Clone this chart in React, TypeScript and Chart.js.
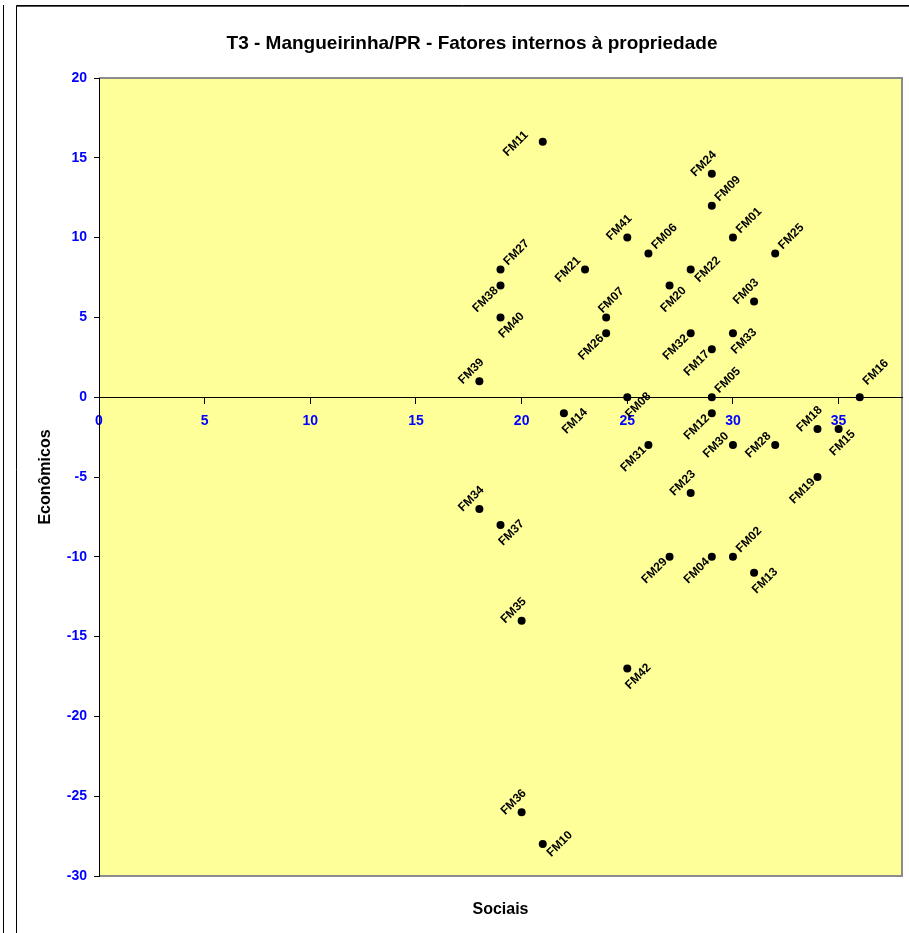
import React, { useEffect, useRef } from 'react';
import { Chart, registerables } from 'chart.js';

Chart.register(...registerables);

const TITLE = 'T3 - Mangueirinha/PR - Fatores internos à propriedade';
const X_TITLE = 'Sociais';
const Y_TITLE = 'Econômicos';

const NAMES = [
  'FM01', 'FM02', 'FM03', 'FM04', 'FM05', 'FM06', 'FM07', 'FM08', 'FM09', 'FM10',
  'FM11', 'FM12', 'FM13', 'FM14', 'FM15', 'FM16', 'FM17', 'FM18', 'FM19', 'FM20',
  'FM21', 'FM22', 'FM23', 'FM24', 'FM25', 'FM26', 'FM27', 'FM28', 'FM29', 'FM30',
  'FM31', 'FM32', 'FM33', 'FM34', 'FM35', 'FM36', 'FM37', 'FM38', 'FM39', 'FM40',
  'FM41', 'FM42',
];
const SOCIAIS = [
  30, 30, 31, 29, 29, 26, 24, 25, 29, 21,
  21, 29, 31, 22, 35, 36, 29, 34, 34, 27,
  23, 28, 28, 29, 32, 24, 19, 32, 27, 30,
  26, 28, 30, 18, 20, 20, 19, 19, 18, 19,
  25, 25,
];
const ECONOMICOS = [
  10, -10, 6, -10, 0, 9, 5, 0, 12, -28,
  16, -1, -11, -1, -2, 0, 3, -2, -5, 7,
  8, 8, -6, 14, 9, 4, 8, -3, -10, -3,
  -3, 4, 4, -7, -14, -26, -8, 7, 1, 5,
  10, -17,
];
// where each point's label sits (UR = up-right, BL = below-left, ...)
const LABEL_SIDE = [
  'UR', 'UR', 'UL', 'BL', 'UR', 'UR', 'U', 'BR', 'UR', 'R',
  'L2', 'BL', 'BR', 'BR', 'B', 'UU', 'BL', 'UL', 'BL', 'B',
  'L', 'R', 'UL', 'UL', 'UR', 'BL', 'UR', 'L', 'BL', 'L',
  'BL', 'BL', 'BR', 'UL', 'UL', 'UL', 'BR', 'BL', 'UL', 'BR',
  'UL', 'BR',
];

const X_TICKS = [0, 5, 10, 15, 20, 25, 30, 35];
const Y_TICKS = [-30, -25, -20, -15, -10, -5, 0, 5, 10, 15, 20];
const X_MIN = 0;
const X_MAX = 38;
const Y_MIN = -30;
const Y_MAX = 20;

const FONT = 'Arial, "Liberation Sans", sans-serif';
const W = 909;
const H = 933;

const SIDE_OFFSETS: Record<string, [number, number]> = {
  UR: [16, -17],
  UU: [16, -25],
  R: [17, 0],
  BR: [11, 8],
  B: [4, 14],
  BL: [-15, 14],
  L: [-17, 0],
  L2: [-27, 2],
  UL: [-8, -10],
  U: [5, -17],
};

const decorPlugin = {
  id: 'decor',
  beforeDraw(chart: any) {
    const ctx = chart.ctx as CanvasRenderingContext2D;
    const { left, top, right, bottom } = chart.chartArea;
    ctx.save();
    ctx.fillStyle = '#ffffff';
    ctx.fillRect(0, 0, W, H);
    ctx.strokeStyle = '#000000';
    ctx.lineWidth = 1;
    ctx.beginPath();
    ctx.moveTo(3.5, 5);
    ctx.lineTo(3.5, H);
    ctx.stroke();
    ctx.beginPath();
    ctx.moveTo(16.5, H);
    ctx.lineTo(16.5, 5.5);
    ctx.lineTo(W, 5.5);
    ctx.stroke();
    ctx.strokeStyle = '#555555';
    ctx.beginPath();
    ctx.moveTo(17, 6.5);
    ctx.lineTo(W, 6.5);
    ctx.stroke();
    ctx.fillStyle = '#FFFF99';
    ctx.fillRect(left, top, right - left, bottom - top);
    ctx.strokeStyle = '#8c8c8c';
    ctx.lineWidth = 2;
    ctx.beginPath();
    ctx.moveTo(left, top);
    ctx.lineTo(right, top);
    ctx.lineTo(right, bottom);
    ctx.lineTo(left, bottom);
    ctx.stroke();
    ctx.restore();
  },
  afterDatasetsDraw(chart: any) {
    const ctx = chart.ctx as CanvasRenderingContext2D;
    const meta = chart.getDatasetMeta(0);
    ctx.save();
    ctx.fillStyle = '#000000';
    ctx.font = `bold 12px ${FONT}`;
    ctx.textAlign = 'center';
    ctx.textBaseline = 'middle';
    meta.data.forEach((pt: any, i: number) => {
      const [dx, dy] = SIDE_OFFSETS[LABEL_SIDE[i]] || [16, -17];
      ctx.save();
      ctx.translate(pt.x + dx, pt.y + dy);
      ctx.rotate(-Math.PI / 4);
      ctx.fillText(NAMES[i], 0, 0);
      ctx.restore();
    });
    ctx.restore();
  },
  afterDraw(chart: any) {
    const ctx = chart.ctx as CanvasRenderingContext2D;
    const { left, right, bottom } = chart.chartArea;
    ctx.save();
    ctx.fillStyle = '#000000';
    ctx.textAlign = 'center';
    ctx.textBaseline = 'middle';
    ctx.font = `bold 19px ${FONT}`;
    ctx.fillText(TITLE, 472, 44);
    ctx.font = `bold 16px ${FONT}`;
    ctx.fillText(X_TITLE, (left + right) / 2, bottom + 34);
    ctx.restore();
  },
};

export default function App() {
  const ref = useRef<HTMLCanvasElement | null>(null);

  useEffect(() => {
    if (!ref.current) return;
    const points = SOCIAIS.map((x, i) => ({ x, y: ECONOMICOS[i] }));
    const chart = new Chart(ref.current, {
      type: 'scatter',
      data: {
        datasets: [
          {
            label: 'Propriedades',
            data: points,
            backgroundColor: '#000000',
            borderColor: '#000000',
            borderWidth: 0,
            pointRadius: 4,
            pointHoverRadius: 4,
          },
        ],
      },
      options: {
        responsive: false,
        animation: false,
        events: [],
        layout: { padding: { left: 16, right: 7, top: 78, bottom: 57 } },
        plugins: {
          legend: { display: false },
          title: { display: false },
          tooltip: { enabled: false },
        },
        scales: {
          x: {
            type: 'linear',
            position: { y: 0 } as any,
            min: X_MIN,
            max: X_MAX,
            afterBuildTicks: (s: any) => {
              s.ticks = X_TICKS.map((v) => ({ value: v }));
            },
            grid: {
              drawOnChartArea: false,
              drawTicks: true,
              tickLength: 6,
              color: '#000000',
            },
            border: { display: true, color: '#000000', width: 1 },
            ticks: {
              color: '#0000FF',
              font: { family: FONT, size: 14, weight: 'bold' },
              padding: 10,
              maxRotation: 0,
              autoSkip: false,
            },
          },
          y: {
            type: 'linear',
            position: 'left',
            min: Y_MIN,
            max: Y_MAX,
            afterBuildTicks: (s: any) => {
              s.ticks = Y_TICKS.map((v) => ({ value: v }));
            },
            afterFit: (s: any) => {
              s.width = 83;
            },
            grid: {
              drawOnChartArea: false,
              drawTicks: true,
              tickLength: 5,
              color: '#000000',
            },
            border: { display: true, color: '#000000', width: 1 },
            ticks: {
              color: '#0000FF',
              font: { family: FONT, size: 14, weight: 'bold' },
              padding: 7,
              autoSkip: false,
            },
            title: {
              display: true,
              text: Y_TITLE,
              color: '#000000',
              font: { family: FONT, size: 16, weight: 'bold' },
              padding: { top: 20, bottom: 0 },
            },
          },
        },
      },
      plugins: [decorPlugin],
    });
    return () => chart.destroy();
  }, []);

  return (
    <div style={{ position: 'absolute', left: 0, top: 0, width: W, height: H, background: '#fff' }}>
      <canvas ref={ref} width={W} height={H} style={{ display: 'block', width: W, height: H }} />
    </div>
  );
}
